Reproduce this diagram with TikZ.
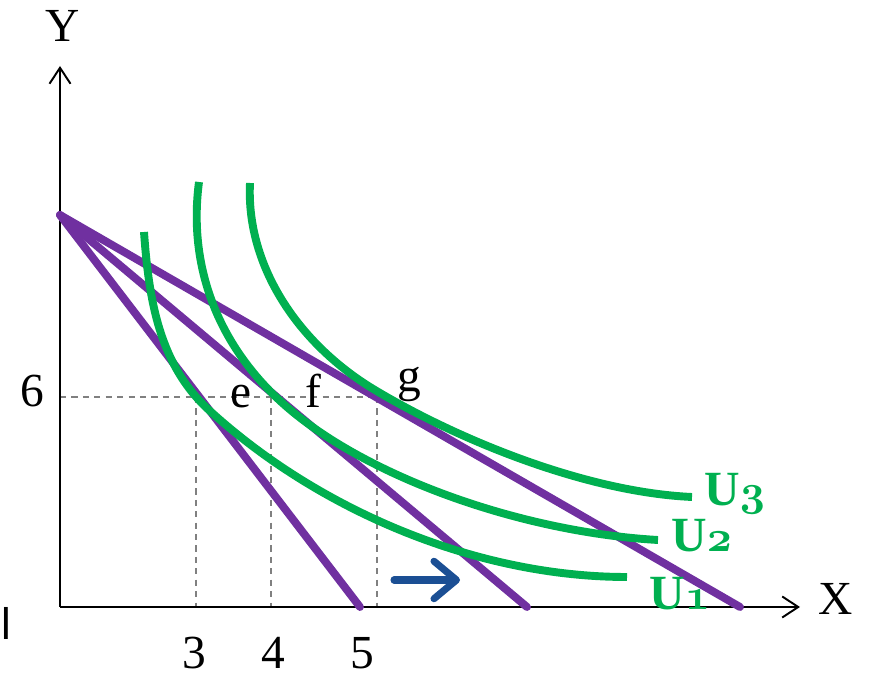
\documentclass[tikz,border=0pt]{standalone}
\usepackage{fontspec}
\setmainfont{Liberation Serif}
\newfontfamily\arabicfont[Script=Arabic]{DejaVu Sans}
\TeXXeTstate=1
\usetikzlibrary{arrows.meta}
\definecolor{budget}{HTML}{7030A0}
\definecolor{icurve}{HTML}{00B050}
\definecolor{shiftblue}{HTML}{1B4F94}
\definecolor{guide}{HTML}{808080}
\newcommand{\osnum}[1]{{\usefont{OML}{cmm}{b}{it}#1}}
\begin{document}
\begin{tikzpicture}[x=0.02cm,y=-0.02cm,
  axis/.style={line width=1.1pt, -{Straight Barb[length=3.2mm,width=4.2mm]}},
  budgetline/.style={budget, line width=4.5pt, line cap=round},
  indiff/.style={icurve, line width=4.5pt},
  guideline/.style={guide, line width=1pt, dash pattern=on 3.5pt off 3pt},
  lbl/.style={font=\fontsize{27}{30}\selectfont, inner sep=0pt},
  ulbl/.style={text=icurve, font=\bfseries\fontsize{28}{30}\selectfont, inner sep=0pt, anchor=base west},
  shiftarrow/.style={shiftblue, line width=4pt, line cap=round, -{Straight Barb[length=4.5mm,width=7.5mm,round]}}]
\useasboundingbox (0,0) rectangle (870,678);
% axes
\coordinate (O) at (60,607);
\coordinate (Ytip) at (60,66);
\coordinate (Xtip) at (800,607);
\coordinate (A) at (60,215);
\coordinate (B1) at (360,607);
\coordinate (B2) at (527,607);
\coordinate (B3) at (740,607);
\coordinate (H6) at (60,397);
\coordinate (Pe) at (196,397);
\coordinate (Pf) at (271,397);
\coordinate (Pg) at (377,397);
\coordinate (Qe) at (196,607);
\coordinate (Qf) at (271,607);
\coordinate (Qg) at (377,607);
% dashed guides
\draw[guideline] (H6) -- (Pg);
\draw[guideline] (Pe) -- (Qe);
\draw[guideline] (Pf) -- (Qf);
\draw[guideline] (Pg) -- (Qg);
\draw[axis] (O) -- (Ytip);
\draw[axis] (O) -- (Xtip);
% budget lines
\draw[budgetline] (A) -- (B1);
\draw[budgetline] (A) -- (B2);
\draw[budgetline] (A) -- (B3);
% indifference curves
\draw[indiff] (144,232) .. controls (149,302) and (160,366) .. (210,411)
              .. controls (320,511) and (477,577) .. (627,577);
\draw[indiff] (199,182) .. controls (188,265) and (217,341) .. (277,398)
              .. controls (357,474) and (518,532) .. (658,540);
\draw[indiff] (250,183) .. controls (246,263) and (295,340) .. (370,387)
              .. controls (450,436) and (582,492) .. (692,497);
% shift arrow
\coordinate (S0) at (394,580);
\coordinate (S1) at (460,580);
\draw[shiftarrow] (S0) -- (S1);
% labels
\node[lbl, anchor=base] (ylab) at (63,42) {Y};
\node[lbl, anchor=base] (xlab) at (836,615) {X};
\node[lbl, anchor=base] (six) at (32,407) {6};
\node[lbl, anchor=base] (three) at (194,669) {3};
\node[lbl, anchor=base] (four) at (273,669) {4};
\node[lbl, anchor=base] (five) at (362,669) {5};
\node[lbl, anchor=base] (le) at (241,408) {e};
\node[lbl, anchor=base] (lf) at (313,408) {f};
\node[lbl, anchor=base] (lg) at (409,392) {g};
\node[ulbl] (u3) at (704,506) {U\osnum{3}};
\node[ulbl] (u2) at (671,552) {U\osnum{2}};
\node[ulbl] (u1) at (649,610) {U\osnum{1}};
\node[anchor=base, inner sep=0pt, font=\fontsize{24}{26}\selectfont] (alef) at (6,640) {\arabicfont\beginR ا\endR};
\end{tikzpicture}
\end{document}
